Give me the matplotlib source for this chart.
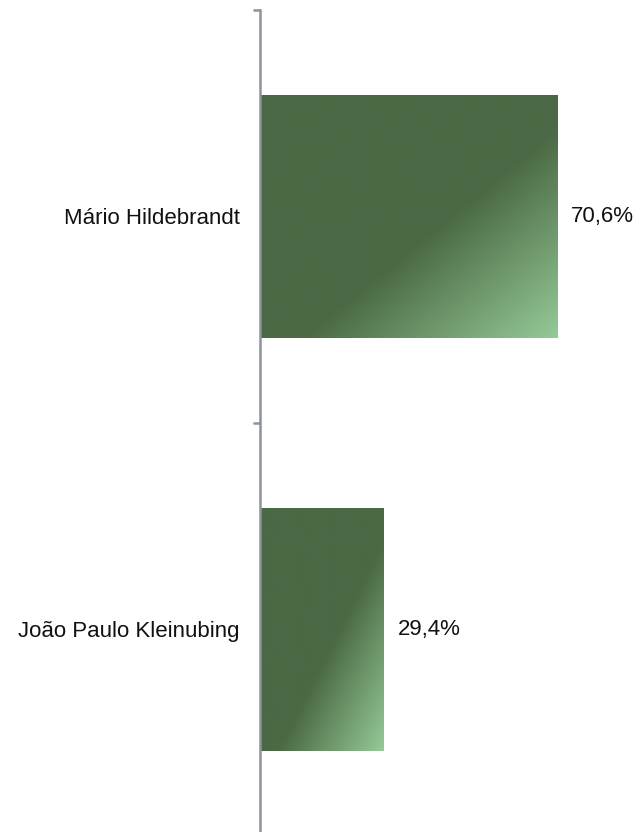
import numpy as np
import matplotlib.pyplot as plt
from matplotlib.colors import LinearSegmentedColormap

candidates = ['Mário Hildebrandt', 'João Paulo Kleinubing']
votes_pct = [70.6, 29.4]
value_labels = ['70,6%', '29,4%']

plt.rcParams['font.family'] = ['Liberation Sans', 'DejaVu Sans']

fig = plt.figure(figsize=(6.43, 8.32), dpi=100)
ax = fig.add_axes([260 / 643, -4 / 832, 420.7 / 643, 826 / 832])

y = np.arange(len(candidates))
bars = ax.barh(y, votes_pct, height=0.59, color='none', edgecolor='none')

# diagonal gradient fill: dark in the upper-left, light towards bottom-right corner
cmap = LinearSegmentedColormap.from_list('g', [(0, '#4a6944'), (0.57, '#4a6944'), (1, '#95c997')])
u, v = np.meshgrid(np.linspace(0, 1, 200), np.linspace(0, 1, 200))
grad = (u + v) / 2
for b in bars:
    x0, y0 = b.get_x(), b.get_y()
    w, h = b.get_width(), b.get_height()
    im = ax.imshow(grad, cmap=cmap, vmin=0, vmax=1, aspect='auto',
                   extent=(x0, x0 + w, y0 + h, y0), origin='upper', zorder=2)
    im.set_clip_path(b)

for i, (val, lab) in enumerate(zip(votes_pct, value_labels)):
    ax.text(val + 3.3, i, lab, va='center', ha='left', fontsize=16, color='#111111')

ax.set_xlim(0, 100)
ax.set_ylim(1.5, -0.5)

for s in ['top', 'right', 'bottom']:
    ax.spines[s].set_visible(False)
ax.spines['left'].set_color('#8c939c')
ax.spines['left'].set_linewidth(1.8)

ax.set_xticks([])
ax.set_yticks([-0.5, 0.5, 1.5])
ax.set_yticklabels([])
ax.tick_params(axis='y', which='major', length=5, width=1.8, color='#8c939c')
ax.set_yticks(y, minor=True)
ax.set_yticklabels(candidates, minor=True, fontsize=16, color='#111111')
ax.tick_params(axis='y', which='minor', length=0, pad=14.4)

fig.savefig('out.png', dpi=100)
